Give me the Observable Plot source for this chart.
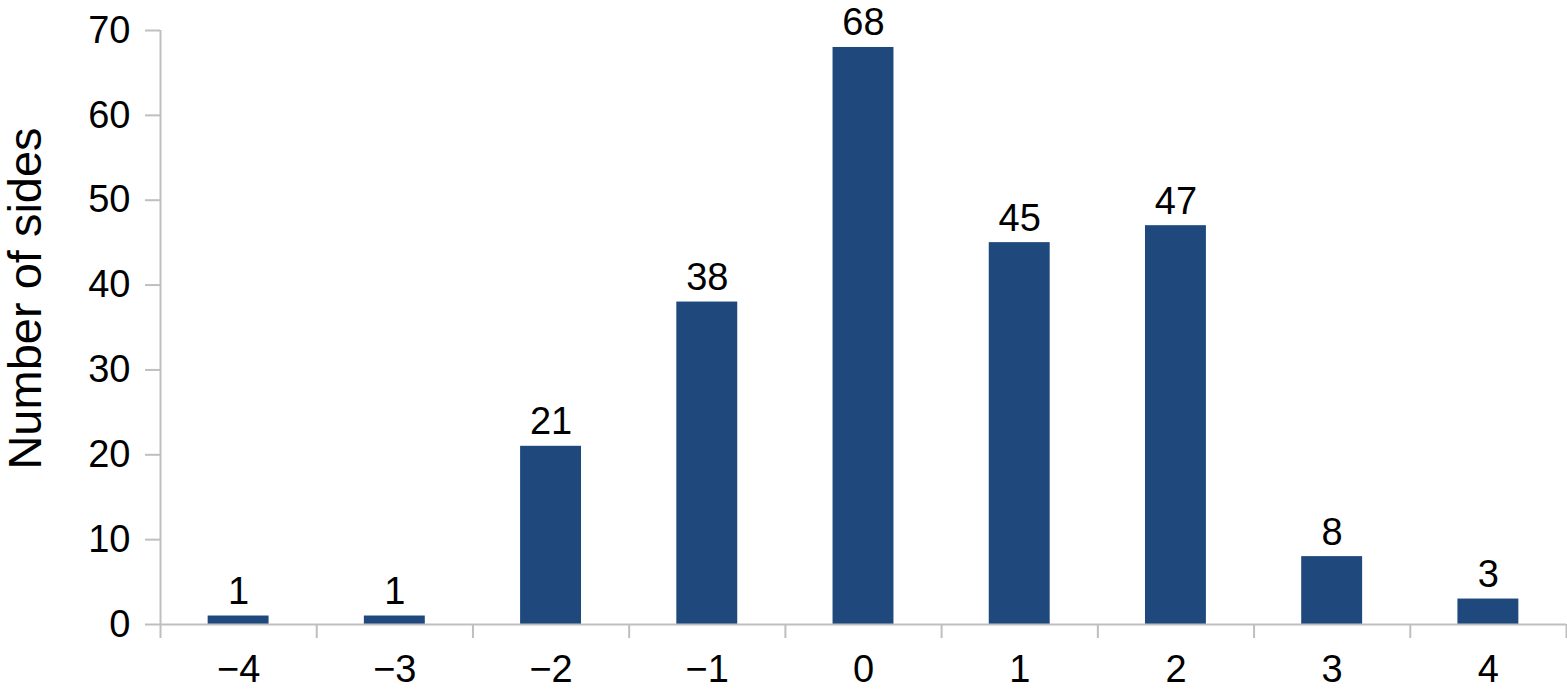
<!DOCTYPE html>
<html><head><meta charset="utf-8">
<script src="https://cdn.jsdelivr.net/npm/d3@7"></script>
<script src="https://cdn.jsdelivr.net/npm/@observablehq/plot@0.6"></script>
<style>body{margin:0;background:#fff}</style>
</head><body><div id="chart"></div>
<script>
const categories = [-4, -3, -2, -1, 0, 1, 2, 3, 4];
const counts = [1, 1, 21, 38, 68, 45, 47, 8, 3];
const yTicks = [0, 10, 20, 30, 40, 50, 60, 70];
const yLabel = ["Number of sides"];

const data = categories.map((c, i) => ({c, n: counts[i]}));
const half = 0.195;
const boundaries = [...categories.map(c => c - 0.5), categories[categories.length - 1] + 0.5];
const axisColor = "#BFBFBF";
const barColor = "#1F497D";
const fmt = d => d < 0 ? "\u2212" + Math.abs(d) : String(d);

const chart = Plot.plot({
  width: 1567, height: 693,
  marginLeft: 160, marginRight: 1, marginTop: 30, marginBottom: 69,
  style: {fontFamily: "'Liberation Sans', Arial, sans-serif", fontSize: "38px", color: "black", background: "white", overflow: "visible"},
  x: {type: "linear", domain: [-4.5, 4.5]},
  y: {domain: [0, 70]},
  marks: [
    Plot.rectY(data, {x1: d => d.c - half, x2: d => d.c + half, y: "n", fill: barColor}),
    Plot.ruleY([0], {stroke: axisColor, strokeWidth: 2}),
    Plot.ruleX([-4.5], {stroke: axisColor, strokeWidth: 2}),
    Plot.axisY({ticks: yTicks, tickSize: 15, tickPadding: 15, stroke: axisColor, strokeWidth: 2, fill: "black", tickFormat: fmt, label: null, fontSize: 38}),
    Plot.axisX({ticks: boundaries, tickSize: 14, stroke: axisColor, strokeWidth: 2, tickFormat: () => "", label: null}),
    Plot.axisX({ticks: categories, tickSize: 0, tickPadding: 31, fill: "black", tickFormat: fmt, label: null, fontSize: 38}),
    Plot.text(data, {x: "c", y: "n", text: d => String(d.n), lineAnchor: "bottom", dy: -12, fontSize: 38, fill: "black"}),
    Plot.text(yLabel, {frameAnchor: "left", textAnchor: "middle", lineAnchor: "middle", text: d => d, rotate: -90, dx: -135, dy: -29, fontSize: 47, fill: "black"})
  ]
});
document.getElementById("chart").appendChild(chart);
</script>
</body></html>
